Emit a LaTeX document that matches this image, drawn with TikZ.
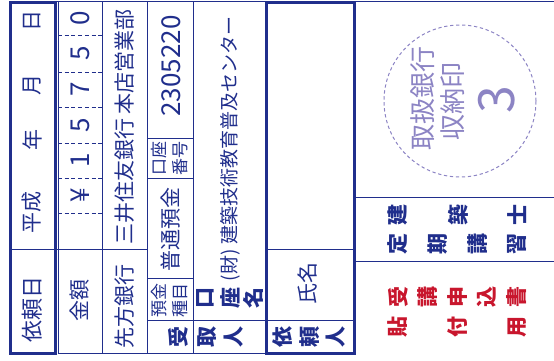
\documentclass[tikz,border=0pt]{standalone}
\usepackage{fontspec}
\setmainfont{Noto Sans CJK JP}
\usepackage{tikz}
\usetikzlibrary{positioning}

\definecolor{formblue}{RGB}{32,46,140}
\definecolor{formred}{RGB}{200,22,45}
\definecolor{stampviolet}{RGB}{140,132,196}

\newcommand{\jpsize}[1]{\fontsize{#1}{#1}\selectfont}

\begin{document}
\begin{tikzpicture}[
    x=1pt, y=-1pt,
    rule/.style={
        draw=formblue,
        line width=0.9pt
    },
    thickframe/.style={
        draw=formblue,
        line width=3pt
    },
    slot/.style={
        draw=formblue,
        line width=0.9pt,
        dash pattern=on 4pt off 2.7pt
    },
    txt/.style={
        text=formblue,
        rotate=90,
        inner sep=0pt,
        font=\jpsize{21}
    },
    digit/.style={
        txt,
        font=\jpsize{26}
    },
    small/.style={
        txt,
        align=center,
        font=\fontsize{17}{21}\selectfont
    },
    boldchar/.style={
        txt,
        font=\jpsize{21}\bfseries
    },
    stamp/.style={
        draw=stampviolet,
        line width=1pt,
        dash pattern=on 3.3pt off 2.7pt,
        circle,
        minimum size=152pt
    },
    stamptext/.style={
        txt,
        text=stampviolet,
        font=\jpsize{26}
    }
]

\useasboundingbox (0,0) rectangle (554,360);

\draw[rule] (10,1.5) -- (554,1.5);
\draw[rule] (58,353) -- (266,353);
\foreach \x in {58,102,147,193}
    \draw[rule] (\x,2) -- (\x,353);
\draw[rule] (10,249) -- (147,249);
\foreach \y in {138,178,278}
    \draw[rule] (147,\y) -- (193,\y);
\draw[rule] (147,320) -- (266,320);
\foreach \y in {249,320}
    \draw[rule] (266,\y) -- (354,\y);
\foreach \y in {197,261}
    \draw[rule] (354,\y) -- (554,\y);
\foreach \y in {35,72,107,143,178,213}
    \draw[slot] (58,\y) -- (102,\y);
\draw[thickframe] (10,2) rectangle (55,353);
\draw[thickframe] (266,2) rectangle (354,353);

\node[txt, font=\jpsize{22}] (date) at (32,309) {依頼日};
\node[txt] (era) at (32,212) {平成};
\node[txt] (year) at (32,140) {年};
\node[txt] (month) at (32,85) {月};
\node[txt] (day) at (32,21) {日};

\foreach \d/\y [count=\i] in {¥/195.5,1/160.5,5/125,7/89.5,5/53.5,0/18.5}
    \node[digit] (amount-\i) at (80,\y) {\d};
\node[txt] (amountlabel) at (80,300) {金額};

\node[txt] (bank) at (125,127) {三井住友銀行\ 本店営業部};
\node[txt] (banklabel) at (125,306) {先方銀行};

\node[digit] (accountno) at (171,66) {2305220};
\node[small] (accountlabel) at (170,158) {口座\\番号};
\node[txt] (kind) at (171,229) {普通預金};
\node[small] (kindlabel) at (170,300) {預金\\種目};

\node[txt, font=\jpsize{19}] (payee) at (230,149) {(財) 建築技術教育普及センター};
\foreach \ch/\x [count=\i] in {口/205,座/230,名/253}
    \node[boldchar] (namelabel-\i) at (\x,298) {\ch};
\foreach \ch/\x [count=\i] in {受/178,取/207,人/234}
    \node[boldchar] (payeelabel-\i) at (\x,337) {\ch};

\node[txt] (sender) at (308,283) {氏名};
\foreach \ch/\x [count=\i] in {依/283,頼/310,人/336}
    \node[boldchar] (senderlabel-\i) at (\x,337) {\ch};

\node[stamp] (stamp) at (460,101) {};
\node[stamptext] (stampbank) at (423,98) {取扱銀行};
\node[stamptext] (stampseal) at (453,101) {収納印};
\node[stamptext, font=\jpsize{50}] (stampno) at (497,100) {3};

\foreach \ch/\x [count=\i] in {建/398,築/458,士/517}
    \node[boldchar] (course-a\i) at (\x,215) {\ch};
\foreach \ch/\x [count=\i] in {定/398,期/438,講/478,習/517}
    \node[boldchar] (course-b\i) at (\x,244) {\ch};
\foreach \ch/\x [count=\i] in {受/398,講/428,申/458,込/487,書/517}
    \node[boldchar, text=formred] (paste-a\i) at (\x,297) {\ch};
\foreach \ch/\x [count=\i] in {貼/398,付/458,用/517}
    \node[boldchar, text=formred] (paste-b\i) at (\x,327) {\ch};

\end{tikzpicture}
\end{document}
